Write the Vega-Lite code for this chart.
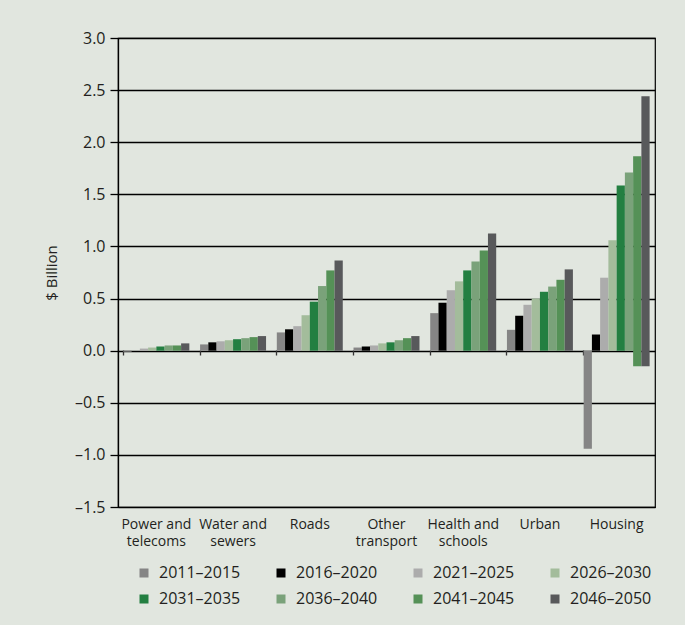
{
  "$schema": "https://vega.github.io/schema/vega-lite/v6.json",
  "width": 537,
  "height": 469,
  "autosize": {"type": "none"},
  "padding": {"left": 118, "top": 38, "right": 30, "bottom": 118},
  "background": "#e1e6df",
  "config": {
    "font": "Open Sans",
    "view": {"stroke": "#000", "strokeWidth": 1.2},
    "axis": {"labelColor": "#231f20", "titleColor": "#231f20"},
    "legend": {"labelColor": "#231f20"}
  },
  "data": {
    "values": [
      {"category": "Power and telecoms", "period": "2011–2015", "value": -0.01, "low": 0},
      {"category": "Power and telecoms", "period": "2016–2020", "value": 0.0, "low": 0},
      {"category": "Power and telecoms", "period": "2021–2025", "value": 0.02, "low": 0},
      {"category": "Power and telecoms", "period": "2026–2030", "value": 0.03, "low": 0},
      {"category": "Power and telecoms", "period": "2031–2035", "value": 0.04, "low": 0},
      {"category": "Power and telecoms", "period": "2036–2040", "value": 0.05, "low": 0},
      {"category": "Power and telecoms", "period": "2041–2045", "value": 0.05, "low": 0},
      {"category": "Power and telecoms", "period": "2046–2050", "value": 0.07, "low": 0},
      {"category": "Water and sewers", "period": "2011–2015", "value": 0.06, "low": 0},
      {"category": "Water and sewers", "period": "2016–2020", "value": 0.08, "low": 0},
      {"category": "Water and sewers", "period": "2021–2025", "value": 0.09, "low": 0},
      {"category": "Water and sewers", "period": "2026–2030", "value": 0.10, "low": 0},
      {"category": "Water and sewers", "period": "2031–2035", "value": 0.11, "low": 0},
      {"category": "Water and sewers", "period": "2036–2040", "value": 0.12, "low": 0},
      {"category": "Water and sewers", "period": "2041–2045", "value": 0.13, "low": 0},
      {"category": "Water and sewers", "period": "2046–2050", "value": 0.14, "low": 0},
      {"category": "Roads", "period": "2011–2015", "value": 0.175, "low": 0},
      {"category": "Roads", "period": "2016–2020", "value": 0.205, "low": 0},
      {"category": "Roads", "period": "2021–2025", "value": 0.235, "low": 0},
      {"category": "Roads", "period": "2026–2030", "value": 0.34, "low": 0},
      {"category": "Roads", "period": "2031–2035", "value": 0.47, "low": 0},
      {"category": "Roads", "period": "2036–2040", "value": 0.62, "low": 0},
      {"category": "Roads", "period": "2041–2045", "value": 0.77, "low": 0},
      {"category": "Roads", "period": "2046–2050", "value": 0.865, "low": 0},
      {"category": "Other transport", "period": "2011–2015", "value": 0.03, "low": 0},
      {"category": "Other transport", "period": "2016–2020", "value": 0.04, "low": 0},
      {"category": "Other transport", "period": "2021–2025", "value": 0.05, "low": 0},
      {"category": "Other transport", "period": "2026–2030", "value": 0.07, "low": 0},
      {"category": "Other transport", "period": "2031–2035", "value": 0.08, "low": 0},
      {"category": "Other transport", "period": "2036–2040", "value": 0.10, "low": 0},
      {"category": "Other transport", "period": "2041–2045", "value": 0.12, "low": 0},
      {"category": "Other transport", "period": "2046–2050", "value": 0.14, "low": 0},
      {"category": "Health and schools", "period": "2011–2015", "value": 0.36, "low": 0},
      {"category": "Health and schools", "period": "2016–2020", "value": 0.46, "low": 0},
      {"category": "Health and schools", "period": "2021–2025", "value": 0.58, "low": 0},
      {"category": "Health and schools", "period": "2026–2030", "value": 0.665, "low": 0},
      {"category": "Health and schools", "period": "2031–2035", "value": 0.77, "low": 0},
      {"category": "Health and schools", "period": "2036–2040", "value": 0.855, "low": 0},
      {"category": "Health and schools", "period": "2041–2045", "value": 0.96, "low": 0},
      {"category": "Health and schools", "period": "2046–2050", "value": 1.125, "low": 0},
      {"category": "Urban", "period": "2011–2015", "value": 0.20, "low": 0},
      {"category": "Urban", "period": "2016–2020", "value": 0.335, "low": 0},
      {"category": "Urban", "period": "2021–2025", "value": 0.44, "low": 0},
      {"category": "Urban", "period": "2026–2030", "value": 0.50, "low": 0},
      {"category": "Urban", "period": "2031–2035", "value": 0.565, "low": 0},
      {"category": "Urban", "period": "2036–2040", "value": 0.615, "low": 0},
      {"category": "Urban", "period": "2041–2045", "value": 0.68, "low": 0},
      {"category": "Urban", "period": "2046–2050", "value": 0.78, "low": 0},
      {"category": "Housing", "period": "2011–2015", "value": -0.94, "low": 0},
      {"category": "Housing", "period": "2016–2020", "value": 0.155, "low": 0},
      {"category": "Housing", "period": "2021–2025", "value": 0.70, "low": 0},
      {"category": "Housing", "period": "2026–2030", "value": 1.06, "low": 0},
      {"category": "Housing", "period": "2031–2035", "value": 1.585, "low": 0},
      {"category": "Housing", "period": "2036–2040", "value": 1.71, "low": 0},
      {"category": "Housing", "period": "2041–2045", "value": 1.865, "low": -0.15},
      {"category": "Housing", "period": "2046–2050", "value": 2.44, "low": -0.15}
    ]
  },
  "resolve": {"axis": {"x": "independent"}},
  "layer": [
    {
      "mark": {"type": "bar"},
      "encoding": {
        "x": {
          "field": "category",
          "type": "nominal",
          "sort": null,
          "scale": {"paddingInner": 0.14, "paddingOuter": 0.07},
          "axis": {
            "orient": "bottom",
            "title": null,
            "domain": false,
            "ticks": false,
            "grid": false,
            "labelAngle": 0,
            "labelPadding": 10,
            "labelFontSize": 14,
            "labelLineHeight": 17,
            "labelBaseline": "top",
            "labelExpr": "datum.label == 'Power and telecoms' ? ['Power and', 'telecoms'] : datum.label == 'Water and sewers' ? ['Water and', 'sewers'] : datum.label == 'Other transport' ? ['Other', 'transport'] : datum.label == 'Health and schools' ? ['Health and', 'schools'] : datum.label"
          }
        },
        "xOffset": {"field": "period", "type": "nominal", "sort": null, "scale": {"paddingInner": 0, "paddingOuter": 0}},
        "y": {
          "field": "value",
          "type": "quantitative",
          "scale": {"domain": [-1.5, 3], "nice": false, "zero": false},
          "axis": {
            "values": [-1.5, -1, -0.5, 0, 0.5, 1, 1.5, 2, 2.5, 3],
            "title": "$ Billion",
            "grid": true,
            "gridColor": "#000",
            "gridWidth": 1.3,
            "gridOpacity": 1,
            "domainColor": "#000",
            "domainWidth": 1.3,
            "tickColor": "#000",
            "tickWidth": 1.3,
            "tickSize": 8,
            "labelFontSize": 16,
            "labelPadding": 5,
            "labelExpr": "datum.value < 0 ? '–' + format(-datum.value, '.1f') : format(datum.value, '.1f')",
            "titleFontSize": 15,
            "titleFontWeight": "normal",
            "titlePadding": 15
          }
        },
        "y2": {"field": "low"},
        "color": {
          "field": "period",
          "type": "nominal",
          "sort": null,
          "scale": {
            "domain": ["2011–2015", "2016–2020", "2021–2025", "2026–2030", "2031–2035", "2036–2040", "2041–2045", "2046–2050"],
            "range": ["#858585", "#000000", "#acacac", "#a3bc9b", "#237f41", "#7aa27a", "#559157", "#58595b"]
          },
          "legend": {
            "orient": "none",
            "direction": "horizontal",
            "legendX": 18,
            "legendY": 527,
            "columns": 4,
            "columnPadding": 32,
            "rowPadding": 10,
            "title": null,
            "padding": 0,
            "symbolType": "square",
            "symbolSize": 81,
            "symbolStrokeWidth": 0,
            "labelFontSize": 16,
            "labelOffset": 7
          }
        }
      }
    },
    {
      "mark": {"type": "point", "opacity": 0},
      "encoding": {
        "x": {
          "field": "category",
          "type": "nominal",
          "sort": null,
          "axis": {
            "orient": "bottom",
            "offset": -157,
            "title": null,
            "labels": false,
            "domain": false,
            "grid": false,
            "ticks": true,
            "tickSize": 5,
            "tickWidth": 1.3,
            "tickColor": "#333",
            "bandPosition": 0
          }
        }
      }
    }
  ]
}
